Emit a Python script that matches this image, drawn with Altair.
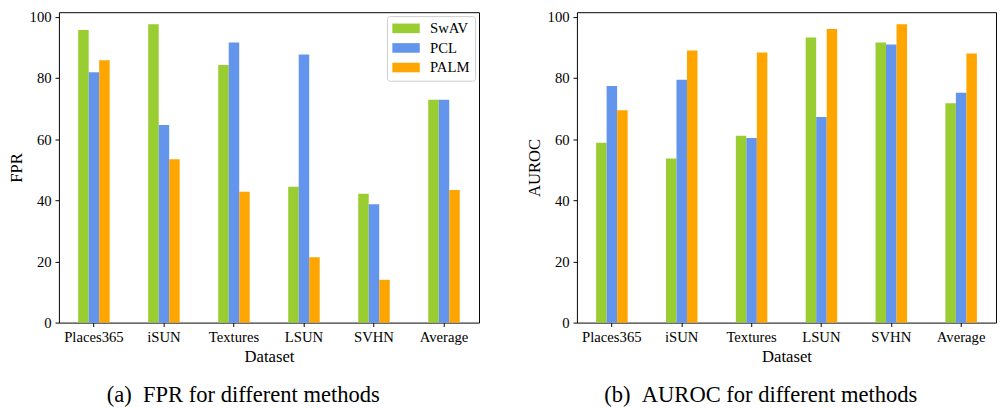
import altair as alt
import pandas as pd

datasets = ["Places365", "iSUN", "Textures", "LSUN", "SVHN", "Average"]
methods = ["SwAV", "PCL", "PALM"]
colors = ["#9acd32", "#6495ed", "#ffa500"]

fpr_swav = [95.7, 97.6, 84.2, 44.4, 42.1, 72.9]
fpr_pcl = [81.9, 64.6, 91.6, 87.7, 38.7, 72.9]
fpr_palm = [85.8, 53.4, 42.8, 21.4, 14.0, 43.4]

auroc_swav = [58.8, 53.7, 61.1, 93.2, 91.6, 71.7]
auroc_pcl = [77.4, 79.4, 60.4, 67.2, 90.9, 75.2]
auroc_palm = [69.4, 89.0, 88.3, 96.0, 97.6, 88.0]

FONT = "Liberation Serif"


def long_df(series):
    rows = []
    for m, vals in zip(methods, series):
        for d, v in zip(datasets, vals):
            rows.append({"Dataset": d, "Method": m, "Value": v})
    return pd.DataFrame(rows)


def panel(df, ytitle, caption, width, show_legend):
    legend = None
    if show_legend:
        legend = alt.Legend(
            title=None,
            orient="top-right",
            offset=4,
            strokeColor="#cccccc",
            fillColor="white",
            cornerRadius=3,
            padding=5,
            symbolType="M-1,-0.7L3,-0.7L3,0.7L-1,0.7Z",
            symbolSize=196,
            symbolStrokeWidth=0,
            symbolOpacity=1,
            labelFont=FONT,
            labelFontSize=15,
            labelColor="black",
            labelOffset=24,
            rowPadding=4,
        )
    return (
        alt.Chart(df)
        .mark_bar()
        .encode(
            x=alt.X(
                "Dataset:N",
                sort=datasets,
                scale=alt.Scale(paddingInner=0.55, paddingOuter=0.275),
                axis=alt.Axis(title="Dataset", labelAngle=0),
            ),
            xOffset=alt.XOffset(
                "Method:N", sort=methods,
                scale=alt.Scale(paddingInner=0, paddingOuter=0),
            ),
            y=alt.Y(
                "Value:Q",
                scale=alt.Scale(domain=[0, 101.5], nice=False, zero=True),
                axis=alt.Axis(title=ytitle, values=[0, 20, 40, 60, 80, 100]),
            ),
            color=alt.Color(
                "Method:N",
                sort=methods,
                scale=alt.Scale(domain=methods, range=colors),
                legend=legend,
            ),
        )
        .properties(
            width=width,
            height=317,
            title=alt.TitleParams(
                caption,
                orient="bottom",
                anchor="middle",
                frame="bounds",
                offset=20,
                font=FONT,
                fontSize=23,
                fontWeight="normal",
                color="black",
            ),
        )
    )


left = panel(long_df([fpr_swav, fpr_pcl, fpr_palm]), "FPR",
             "(a)\u00a0\u00a0FPR for different methods", 429, True)
right = panel(long_df([auroc_swav, auroc_pcl, auroc_palm]), "AUROC",
              "(b)\u00a0\u00a0AUROC for different methods", 428, False)

chart = (
    alt.hconcat(left, right, spacing=46)
    .resolve_scale(color="independent")
    .properties(padding={"left": -1, "top": -3, "right": 0, "bottom": 0})
    .configure_view(stroke="black", strokeWidth=1)
    .configure_axis(
        domain=False,
        grid=False,
        ticks=True,
        tickColor="black",
        tickSize=4,
        labelFont=FONT,
        labelFontSize=15,
        labelColor="black",
        labelPadding=4,
        titleFont=FONT,
        titleFontSize=17,
        titleFontWeight="normal",
        titleColor="black",
        titlePadding=4,
    )
    .configure_axisX(labelPadding=3, titlePadding=5)
)

chart.save("out.html", embed_options={"renderer": "svg", "actions": False})
